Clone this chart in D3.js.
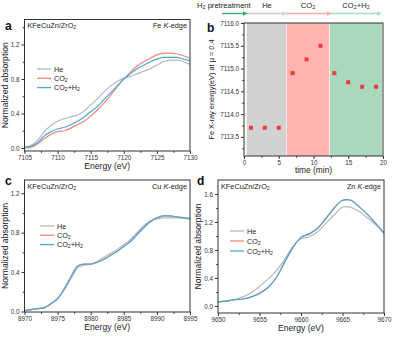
<!DOCTYPE html>
<html>
<head>
<meta charset="utf-8">
<script src="https://cdn.jsdelivr.net/npm/d3@7"></script>
<style>
  body { margin: 0; background: #fff; }
  svg { display: block; font-family: "Liberation Sans", Arial, sans-serif; }
</style>
</head>
<body>
<div class="canvas"></div>
<script>
// ---- data ----
const seriesNames = ["He", "CO_2", "CO_2+H_2"]
const seriesColors = ["#b9b9b9", "#f5857f", "#4aa9d9"]

// Fe K-edge
const feEnergy = d3.range(7105, 7131)
const feHe = [0.01, 0.03, 0.09, 0.19, 0.26, 0.31, 0.34, 0.36, 0.38, 0.43, 0.50, 0.57, 0.65, 0.72, 0.77, 0.81, 0.83, 0.86, 0.89, 0.92, 0.96, 1.00, 1.02, 1.02, 1.00, 0.97]
const feCO2 = [0.00, 0.01, 0.05, 0.11, 0.16, 0.19, 0.20, 0.23, 0.27, 0.31, 0.37, 0.44, 0.52, 0.61, 0.71, 0.80, 0.88, 0.95, 1.00, 1.04, 1.08, 1.10, 1.10, 1.09, 1.07, 1.04]
const feCO2H2 = [0.01, 0.02, 0.06, 0.14, 0.19, 0.22, 0.24, 0.27, 0.31, 0.36, 0.42, 0.48, 0.56, 0.64, 0.72, 0.80, 0.86, 0.92, 0.96, 1.00, 1.03, 1.05, 1.05, 1.05, 1.03, 1.01]

// edge energy vs time
const stageNames = ["He", "CO_2", "CO_2+H_2"]
const stageStart = [0.4, 6.15, 12.35]
const stageEnd = [6.05, 12.25, 19.85]
const stageColors = ["#d2d2d2", "#ffb4b1", "#a9d8bd"]
const timeMin = [1, 3, 5, 7, 9, 11, 13, 15, 17, 19]
const edgeEnergy = [7113.7, 7113.7, 7113.7, 7114.9, 7115.2, 7115.5, 7114.9, 7114.7, 7114.6, 7114.6]

// Cu K-edge
const cuEnergy = d3.range(8970, 8996)
const cuHe = [0.01, 0.02, 0.03, 0.04, 0.08, 0.13, 0.22, 0.33, 0.44, 0.47, 0.48, 0.51, 0.55, 0.59, 0.63, 0.68, 0.73, 0.80, 0.87, 0.92, 0.94, 0.95, 0.95, 0.95, 0.95, 0.95]
const cuCO2 = [0.01, 0.02, 0.03, 0.04, 0.08, 0.13, 0.23, 0.35, 0.46, 0.48, 0.48, 0.50, 0.53, 0.57, 0.61, 0.66, 0.71, 0.78, 0.85, 0.91, 0.95, 0.97, 0.97, 0.96, 0.95, 0.94]
const cuCO2H2 = [0.01, 0.02, 0.03, 0.04, 0.08, 0.13, 0.23, 0.35, 0.46, 0.48, 0.48, 0.50, 0.53, 0.57, 0.61, 0.66, 0.71, 0.78, 0.85, 0.91, 0.95, 0.97, 0.97, 0.96, 0.95, 0.94]

// Zn K-edge
const znEnergy = [9650, 9651, 9652, 9653, 9654, 9655, 9656, 9657, 9658, 9659, 9660, 9661, 9662, 9663, 9664, 9665, 9665.5, 9666, 9667, 9668, 9669, 9670]
const znHe = [0.06, 0.07, 0.09, 0.13, 0.19, 0.28, 0.38, 0.50, 0.66, 0.85, 0.96, 0.99, 1.06, 1.18, 1.30, 1.41, 1.42, 1.41, 1.35, 1.26, 1.16, 1.04]
const znCO2 = [0.06, 0.07, 0.09, 0.10, 0.13, 0.18, 0.26, 0.40, 0.62, 0.83, 0.98, 1.03, 1.11, 1.25, 1.40, 1.51, 1.52, 1.51, 1.42, 1.31, 1.18, 1.04]
const znCO2H2 = [0.06, 0.07, 0.09, 0.10, 0.13, 0.18, 0.26, 0.40, 0.62, 0.83, 0.98, 1.03, 1.11, 1.25, 1.40, 1.51, 1.52, 1.51, 1.42, 1.31, 1.18, 1.04]

// ---- drawing ----
const svg = d3.select(".canvas").append("svg")
    .attr("width", 394)
    .attr("height", 337)

const axisColor = "#333"

// writes "CO_2+H_2" with subscripts, no empty tspans
function subText(sel, str) {
    const parts = str.split(/(_.)/).filter(p => p.length)
    let down = false
    parts.forEach(p => {
        if (p[0] === "_") {
            sel.append("tspan").attr("font-size", "0.72em").attr("dy", down ? null : "0.25em").text(p[1])
            down = true
        } else {
            const t = sel.append("tspan").text(p)
            if (down) t.attr("dy", "-0.18em")
            down = false
        }
    })
    return sel
}

function frame(box, xDom, yDom, xTicks, yTicks, xMinor, yMinor, yFmt) {
    const g = svg.append("g")
    const x = d3.scaleLinear().domain(xDom).range([box.left, box.right])
    const y = d3.scaleLinear().domain(yDom).range([box.bottom, box.top])

    const xAxis = d3.axisBottom(x).tickValues(xTicks).tickSize(3).tickPadding(1.5).tickFormat(d3.format("d"))
    const yAxis = d3.axisLeft(y).tickValues(yTicks).tickSize(3).tickPadding(2).tickFormat(yFmt)

    const xg = g.append("g").attr("transform", `translate(0,${box.bottom})`).call(xAxis)
    const yg = g.append("g").attr("transform", `translate(${box.left},0)`).call(yAxis)
    xg.append("g").call(d3.axisBottom(x).tickValues(xMinor).tickSize(1.8).tickFormat(""))
    yg.append("g").call(d3.axisLeft(y).tickValues(yMinor).tickSize(1.8).tickFormat(""))
    ;[xg, yg].forEach(a => {
        a.selectAll("path").remove()
        a.selectAll("line").attr("stroke", axisColor)
        a.selectAll("text").filter(function () { return this.textContent !== "" }).attr("font-size", 6.3).attr("fill", "#333")
        a.selectAll("text").filter(function () { return this.textContent === "" }).remove()
    })
    return { g, x, y }
}

function border(box) {
    svg.append("rect")
        .attr("x", box.left).attr("y", box.top)
        .attr("width", box.right - box.left).attr("height", box.bottom - box.top)
        .attr("fill", "none").attr("stroke", axisColor).attr("stroke-width", 1)
}

function spectrumPanel(opts) {
    const { box, xDom, yDom, xTicks, yTicks, xMinor, yMinor, energy, series, letter, edge, legend } = opts
    const p = frame(box, xDom, yDom, xTicks, yTicks, xMinor, yMinor, d3.format(".1f"))
    const line = d3.line().x((d, i) => p.x(energy[i])).y(d => p.y(d)).curve(d3.curveMonotoneX)
    // He first, then CO2, then CO2+H2 on top
    series.forEach((s, k) => {
        p.g.append("path").datum(s)
            .attr("d", line)
            .attr("fill", "none")
            .attr("stroke", seriesColors[k])
            .attr("stroke-width", 1.2)
    })
    border(box)

    // legend
    seriesNames.forEach((n, k) => {
        const ly = legend.y + k * legend.dy
        svg.append("line")
            .attr("x1", legend.x).attr("x2", legend.x + 14)
            .attr("y1", ly).attr("y2", ly)
            .attr("stroke", seriesColors[k]).attr("stroke-width", 1.3)
        subText(svg.append("text")
            .attr("x", legend.x + 17).attr("y", ly + 2.6)
            .attr("font-size", 7.2).attr("fill", "#222"), n)
    })

    // annotations
    subText(svg.append("text")
        .attr("x", box.left + 3).attr("y", box.top + 8.5)
        .attr("font-size", 7.3).attr("fill", "#222"), "KFeCuZn/ZrO_2")
    const et = svg.append("text")
        .attr("x", box.right - 3).attr("y", box.top + 8.5)
        .attr("font-size", 7.3).attr("fill", "#222").attr("text-anchor", "end")
    et.append("tspan").text(edge + " ")
    et.append("tspan").attr("font-style", "italic").text("K")
    et.append("tspan").text("-edge")

    svg.append("text")
        .attr("x", letter.x).attr("y", letter.y)
        .attr("font-size", 12).attr("font-weight", "bold").attr("fill", "#111")
        .text(letter.t)

    svg.append("text")
        .attr("x", (box.left + box.right) / 2).attr("y", box.bottom + 17.5)
        .attr("text-anchor", "middle").attr("font-size", 8.6).attr("fill", "#222")
        .text("Energy (eV)")
    svg.append("text")
        .attr("transform", `translate(${box.left - 17},${(box.top + box.bottom) / 2}) rotate(-90)`)
        .attr("text-anchor", "middle").attr("font-size", 8.6).attr("fill", "#222")
        .text("Normalized absorption")
}

// panel a
spectrumPanel({
    box: { left: 24.5, right: 190, top: 19.5, bottom: 151 },
    xDom: [7105, 7130], yDom: [-0.035, 1.49],
    xTicks: d3.range(7105, 7131, 5), yTicks: [0, 0.4, 0.8, 1.2],
    xMinor: d3.range(7107.5, 7130, 5), yMinor: [0.2, 0.6, 1.0, 1.4],
    energy: feEnergy, series: [feHe, feCO2, feCO2H2],
    letter: { x: 5, y: 30, t: "a" }, edge: "Fe",
    legend: { x: 37, y: 69, dy: 9.3 }
})

// panel c
spectrumPanel({
    box: { left: 24.5, right: 190, top: 180, bottom: 312 },
    xDom: [8970, 8995], yDom: [-0.005, 1.334],
    xTicks: d3.range(8970, 8996, 5), yTicks: [0, 0.4, 0.8, 1.2],
    xMinor: d3.range(8972.5, 8995, 5), yMinor: [0.2, 0.6, 1.0],
    energy: cuEnergy, series: [cuHe, cuCO2, cuCO2H2],
    letter: { x: 5, y: 185, t: "c" }, edge: "Cu",
    legend: { x: 40, y: 226, dy: 9.3 }
})

// panel d
spectrumPanel({
    box: { left: 218, right: 384, top: 180, bottom: 313 },
    xDom: [9650, 9670], yDom: [-0.1, 1.8],
    xTicks: d3.range(9650, 9671, 5), yTicks: [0, 0.4, 0.8, 1.2, 1.6],
    xMinor: d3.range(9652.5, 9670, 5), yMinor: [0.2, 0.6, 1.0, 1.4],
    energy: znEnergy, series: [znHe, znCO2, znCO2H2],
    letter: { x: 197, y: 185, t: "d" }, edge: "Zn",
    legend: { x: 230, y: 231, dy: 10 }
})

// panel b
const boxB = { left: 244, right: 383, top: 23, bottom: 156 }
const pb = frame(boxB, [0, 20], [7113.08, 7116.0],
    [0, 5, 10, 15, 20], d3.range(7113.5, 7116.01, 0.5),
    [2.5, 7.5, 12.5, 17.5], d3.range(7113.25, 7116, 0.5), d3.format(".1f"))

pb.g.selectAll("rect.band")
    .data(stageStart)
    .enter()
    .append("rect")
    .attr("class", "band")
    .attr("x", d => pb.x(d))
    .attr("y", boxB.top)
    .attr("width", (d, i) => pb.x(stageEnd[i]) - pb.x(d))
    .attr("height", boxB.bottom - boxB.top)
    .attr("fill", (d, i) => stageColors[i])

pb.g.selectAll("rect.pt")
    .data(timeMin)
    .enter()
    .append("rect")
    .attr("class", "pt")
    .attr("x", d => pb.x(d) - 2)
    .attr("y", (d, i) => pb.y(edgeEnergy[i]) - 2)
    .attr("width", 4).attr("height", 4)
    .attr("fill", "#ee3b3b")
border(boxB)

svg.append("text")
    .attr("x", 207).attr("y", 32)
    .attr("font-size", 12).attr("font-weight", "bold").attr("fill", "#111")
    .text("b")
svg.append("text")
    .attr("x", (boxB.left + boxB.right) / 2).attr("y", boxB.bottom + 17)
    .attr("text-anchor", "middle").attr("font-size", 8.4).attr("fill", "#222")
    .text("time (min)")
svg.append("text")
    .attr("transform", `translate(${boxB.left - 30},${(boxB.top + boxB.bottom) / 2}) rotate(-90)`)
    .attr("text-anchor", "middle").attr("font-size", 7.4).attr("fill", "#222")
    .text("Fe X-ray energy(eV) at \u03bc = 0.4")

// pretreatment / stage header with arrows
const defs = svg.append("defs")
const arrowColors = ["#2fae6d", "#cfcfcf", "#f9a9a5", "#a8dcc2"]
arrowColors.forEach((c, i) => {
    defs.append("marker")
        .attr("id", "ah" + i)
        .attr("viewBox", "0 0 10 10").attr("refX", 9).attr("refY", 5)
        .attr("markerWidth", 5).attr("markerHeight", 5)
        .attr("markerUnits", "userSpaceOnUse")
        .attr("orient", "auto")
        .append("path").attr("d", "M0,0 L10,5 L0,10 z").attr("fill", c)
})
const arrowStops = [222, 247, 286, 331, 381]
arrowColors.forEach((c, i) => {
    svg.append("line")
        .attr("x1", arrowStops[i]).attr("x2", arrowStops[i + 1])
        .attr("y1", 13.5).attr("y2", 13.5)
        .attr("stroke", c).attr("stroke-width", 1.3)
        .attr("marker-end", `url(#ah${i})`)
})
subText(svg.append("text")
    .attr("x", 197).attr("y", 8)
    .attr("font-size", 7.6).attr("fill", "#222"), "H_2 pretreatment")
const headerX = [267, 308, 356]
stageNames.forEach((n, i) => {
    subText(svg.append("text")
        .attr("x", headerX[i]).attr("y", 8)
        .attr("text-anchor", "middle")
        .attr("font-size", 7.6).attr("fill", "#222"), n)
})
</script>
</body>
</html>
